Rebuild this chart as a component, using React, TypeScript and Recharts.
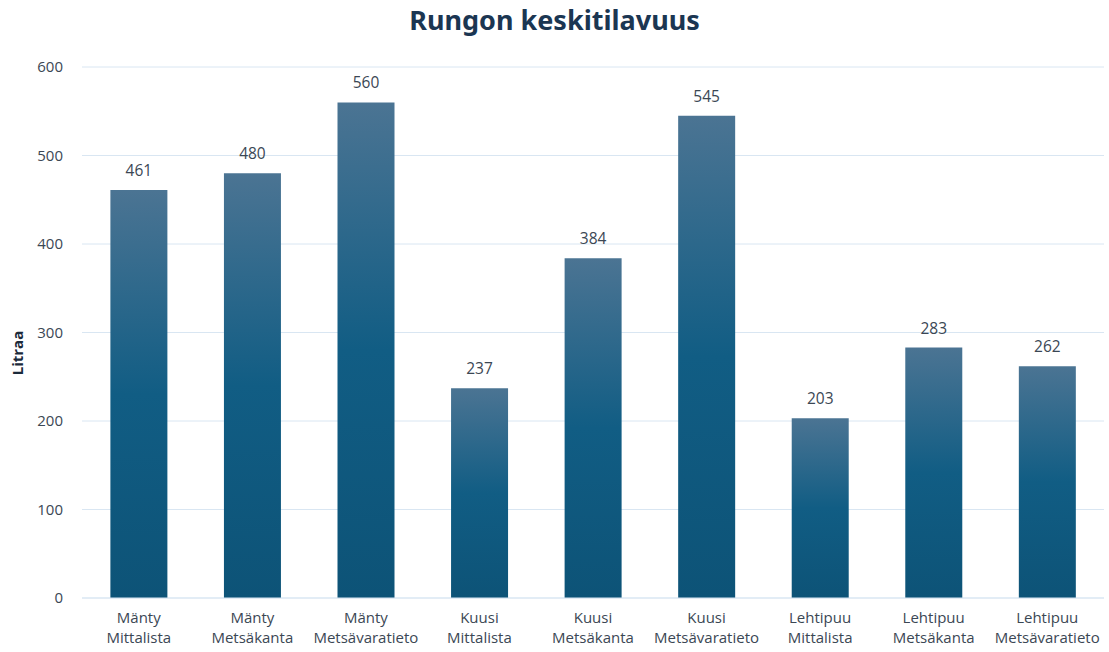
import React from 'react';
import { BarChart, Bar, XAxis, YAxis, CartesianGrid, LabelList } from 'recharts';

const species = ['Mänty', 'Mänty', 'Mänty', 'Kuusi', 'Kuusi', 'Kuusi', 'Lehtipuu', 'Lehtipuu', 'Lehtipuu'];
const sources = ['Mittalista', 'Metsäkanta', 'Metsävaratieto', 'Mittalista', 'Metsäkanta', 'Metsävaratieto', 'Mittalista', 'Metsäkanta', 'Metsävaratieto'];
const values = [461, 480, 560, 237, 384, 545, 203, 283, 262];
const yTicks = [0, 100, 200, 300, 400, 500, 600];

const data = values.map((v, i) => ({ name: species[i] + '\n' + sources[i], value: v }));

const FONT = '"Open Sans", "Liberation Sans", Arial, sans-serif';
const TEXT = '#3b4754';

const XTick = (props: any) => {
  const { x, y, payload } = props;
  const lines = String(payload.value).split('\n');
  return (
    <g transform={`translate(${x},${y})`}>
      {lines.map((l: string, i: number) => (
        <text key={i} x={0} y={17 + i * 20} textAnchor="middle" fill={TEXT} fontSize={15} fontFamily={FONT}>
          {l}
        </text>
      ))}
    </g>
  );
};

export default function App() {
  return (
    <div style={{ position: 'absolute', left: 0, top: 0, width: 1109, height: 652, background: '#fff' }}>
      <div style={{ position: 'absolute', left: 0, top: 1, width: 1109, textAlign: 'center', fontFamily: '"Noto Sans", sans-serif', fontWeight: 700, fontSize: 27, color: '#1b3652' }}>
        Rungon keskitilavuus
      </div>
      <div style={{ position: 'absolute', left: 17, top: 353, transform: 'translate(-50%,-50%) rotate(-90deg)', fontFamily: FONT, fontWeight: 700, fontSize: 15, color: '#1b2a3a', whiteSpace: 'nowrap' }}>
        Litraa
      </div>
      <BarChart width={1109} height={652} data={data} margin={{ top: 67, right: 5, bottom: 24, left: 22 }} barCategoryGap="25%">
        <defs>
          <linearGradient id="barGrad" x1="0" y1="0" x2="0" y2="1">
            <stop offset="0%" stopColor="#4b7493" />
            <stop offset="50%" stopColor="#115d84" />
            <stop offset="100%" stopColor="#0d5377" />
          </linearGradient>
        </defs>
        <CartesianGrid vertical={false} stroke="#d9e6f2" />
        <XAxis dataKey="name" tick={<XTick />} tickLine={false} axisLine={{ stroke: '#d9e6f2' }} interval={0} />
        <YAxis width={60} domain={[0, 600]} ticks={yTicks} tickLine={false} axisLine={false}
          tick={{ fill: TEXT, fontSize: 15, fontFamily: FONT }} tickMargin={13} />
        <Bar dataKey="value" fill="url(#barGrad)" isAnimationActive={false}>
          <LabelList dataKey="value" position="top" offset={14} fill={TEXT} fontSize={15.5} fontFamily={FONT} />
        </Bar>
      </BarChart>
    </div>
  );
}
